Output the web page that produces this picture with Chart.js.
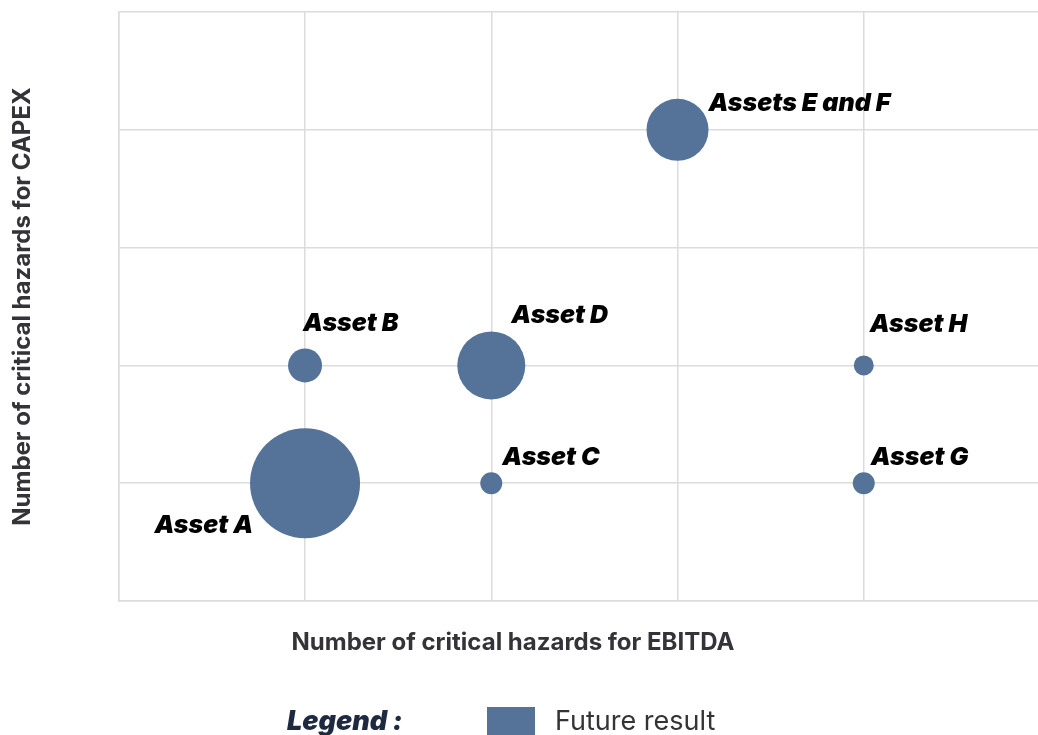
<!DOCTYPE html>
<html>
<head>
<meta charset="utf-8">
<script src="https://cdn.jsdelivr.net/npm/chart.js@4.4.1/dist/chart.umd.min.js"></script>
<style>
  html, body { margin: 0; padding: 0; background: #ffffff; overflow: hidden; }
  #wrap { position: relative; width: 1052px; height: 735px; }
</style>
</head>
<body>
<div id="wrap"><canvas id="c" width="1052" height="735"></canvas></div>
<script>
// ---- data ----
const assetLabels   = ['Asset A', 'Asset B', 'Asset C', 'Asset D', 'Assets E and F', 'Asset G', 'Asset H'];
const ebitdaHazards = [1, 1, 2, 2, 3, 4, 4];
const capexHazards  = [1, 2, 1, 2, 4, 1, 2];
const bubbleSize    = [55, 17, 11, 34, 31, 11, 10];
const seriesName    = 'Future result';
const xTitle = 'Number of critical hazards for EBITDA';
const yTitle = 'Number of critical hazards for CAPEX';
const legendPrefix = 'Legend :';

const BLUE = '#557399';

const points = assetLabels.map((name, i) => ({ x: ebitdaHazards[i], y: capexHazards[i], r: bubbleSize[i] }));

// label placement (relative to bubble centre)
const labelPlacement = [
  { dx: -52, dy: 42, align: 'right' },
  { dx: -2,  dy: -42, align: 'left' },
  { dx: 11,  dy: -26, align: 'left' },
  { dx: 20,  dy: -50, align: 'left' },
  { dx: 31,  dy: -26, align: 'left' },
  { dx: 7,   dy: -26, align: 'left' },
  { dx: 6,   dy: -41, align: 'left' }
];

const labelPlugin = {
  id: 'bubbleLabels',
  afterDatasetsDraw(chart) {
    const ctx = chart.ctx;
    const meta = chart.getDatasetMeta(0);
    ctx.save();
    ctx.font = 'italic 900 25px Inter';
    ctx.fillStyle = '#000000';
    ctx.textBaseline = 'middle';
    meta.data.forEach((el, i) => {
      const p = labelPlacement[i];
      ctx.textAlign = p.align;
      ctx.fillText(assetLabels[i], el.x + p.dx, el.y + p.dy);
    });
    ctx.restore();
  },
  afterDraw(chart) {
    const ctx = chart.ctx;
    ctx.save();
    // x axis title
    ctx.font = 'bold 24px Inter';
    ctx.fillStyle = '#333338';
    ctx.textAlign = 'center';
    ctx.textBaseline = 'middle';
    ctx.fillText(xTitle, 513, 643);
    // legend
    ctx.font = 'italic 900 27px Inter';
    ctx.fillStyle = '#1d2a40';
    ctx.textAlign = 'left';
    ctx.fillText(legendPrefix, 287, 722);
    ctx.fillStyle = BLUE;
    ctx.fillRect(487, 707, 48, 40);
    ctx.font = '27px Inter';
    ctx.fillStyle = '#333338';
    ctx.fillText(chart.data.datasets[0].label, 555, 722);
    ctx.restore();
  }
};

new Chart(document.getElementById('c'), {
  type: 'bubble',
  data: {
    datasets: [{
      label: seriesName,
      data: points,
      backgroundColor: BLUE,
      borderColor: BLUE,
      borderWidth: 0,
      hoverRadius: 0
    }]
  },
  options: {
    responsive: false,
    animation: false,
    events: [],
    layout: { autoPadding: false, padding: { left: 0, top: 12, right: 2, bottom: 134 } },
    plugins: {
      legend: { display: false },
      tooltip: { enabled: false }
    },
    scales: {
      x: {
        type: 'linear',
        min: 0, max: 5,
        ticks: { display: false, stepSize: 1 },
        grid: { color: '#dcdcdc', lineWidth: 1.5, drawTicks: false },
        border: { display: true, color: '#dcdcdc', width: 1.5 },
        title: { display: false, text: xTitle }
      },
      y: {
        type: 'linear',
        min: 0, max: 5,
        ticks: { display: false, stepSize: 1 },
        grid: { color: '#dcdcdc', lineWidth: 1.5, drawTicks: false },
        border: { display: true, color: '#dcdcdc', width: 1.5 },
        title: {
          display: true,
          text: yTitle,
          color: '#333338',
          font: { family: 'Inter', size: 24, weight: 'bold', lineHeight: 1.2 },
          padding: { top: 8, bottom: 82 }
        }
      }
    }
  },
  plugins: [labelPlugin]
});
</script>
</body>
</html>
